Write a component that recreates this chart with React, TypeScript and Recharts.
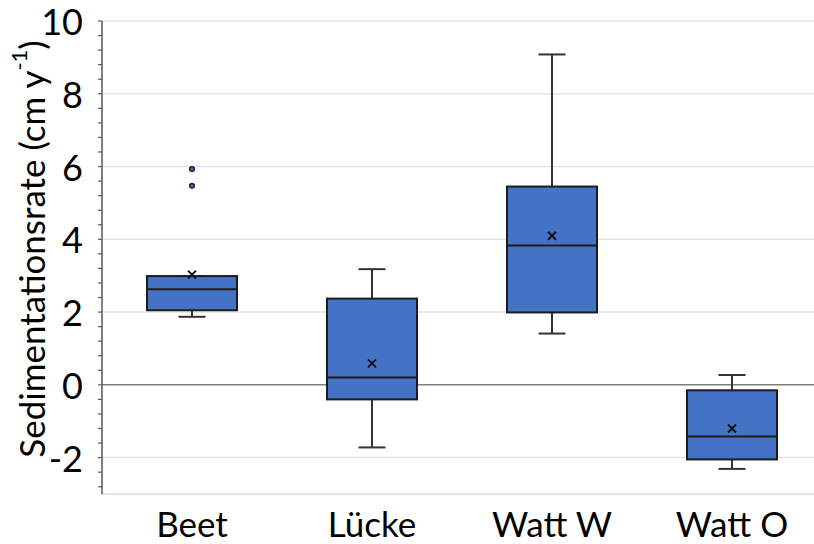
import React from 'react';
import { ComposedChart, Bar, XAxis, YAxis, CartesianGrid } from 'recharts';

const categories = ['Beet', 'Lücke', 'Watt W', 'Watt O'];
const whiskerLow = [1.87, -1.72, 1.41, -2.31];
const q1 = [2.05, -0.4, 1.99, -2.05];
const median = [2.63, 0.2, 3.83, -1.42];
const q3 = [2.99, 2.37, 5.45, -0.15];
const whiskerHigh = [2.99, 3.18, 9.08, 0.27];
const means = [3.03, 0.59, 4.1, -1.2];
const outliers: number[][] = [[5.47, 5.93], [], [], []];

const yTicks = [
  -2.8, -2.4, -2, -1.6, -1.2, -0.8, -0.4, 0, 0.4, 0.8, 1.2, 1.6, 2, 2.4, 2.8, 3.2, 3.6, 4,
  4.4, 4.8, 5.2, 5.6, 6, 6.4, 6.8, 7.2, 7.6, 8, 8.4, 8.8, 9.2, 9.6, 10,
];
const gridValues = [-2, 2, 4, 6, 8, 10];
const zeroValues = [0];

const data = categories.map((name, i) => ({
  name,
  range: [whiskerLow[i], whiskerHigh[i]],
  low: whiskerLow[i],
  q1: q1[i],
  median: median[i],
  q3: q3[i],
  high: whiskerHigh[i],
  mean: means[i],
  outliers: outliers[i],
}));

const FONT = 'Lato, Carlito, Calibri, sans-serif';
const BOX_FILL = '#4472C4';
const BOX_STROKE = '#1c1c1c';
const WHISKER = '#333333';

const BoxShape = (props: any) => {
  const { x, y, width, height, payload } = props;
  const top = Math.min(y, y + height);
  const h = Math.abs(height);
  const span = payload.high - payload.low;
  const ppu = span > 0 ? h / span : 0;
  const yOf = (v: number) => top + (payload.high - v) * ppu;
  const cx = x + width / 2;
  const cap = 13.5;
  const yQ1 = yOf(payload.q1);
  const yQ3 = yOf(payload.q3);
  const yMed = yOf(payload.median);
  const yMean = yOf(payload.mean);
  const m = 4;
  return (
    <g>
      <line x1={cx} x2={cx} y1={yOf(payload.high)} y2={yQ3} stroke={WHISKER} strokeWidth={2} />
      <line x1={cx} x2={cx} y1={yQ1} y2={yOf(payload.low)} stroke={WHISKER} strokeWidth={2} />
      <line x1={cx - cap} x2={cx + cap} y1={yOf(payload.high)} y2={yOf(payload.high)} stroke={WHISKER} strokeWidth={2} />
      <line x1={cx - cap} x2={cx + cap} y1={yOf(payload.low)} y2={yOf(payload.low)} stroke={WHISKER} strokeWidth={2} />
      <rect x={x} y={yQ3} width={width} height={yQ1 - yQ3} fill={BOX_FILL} stroke={BOX_STROKE} strokeWidth={2} />
      <line x1={x} x2={x + width} y1={yMed} y2={yMed} stroke={BOX_STROKE} strokeWidth={2} />
      <line x1={cx - m} x2={cx + m} y1={yMean - m} y2={yMean + m} stroke="#111" strokeWidth={2} />
      <line x1={cx - m} x2={cx + m} y1={yMean + m} y2={yMean - m} stroke="#111" strokeWidth={2} />
      {payload.outliers.map((v: number, k: number) => (
        <circle key={k} cx={cx} cy={yOf(v)} r={2.3} fill={BOX_FILL} stroke="#1c1c2c" strokeWidth={1.5} />
      ))}
    </g>
  );
};

const YTick = (props: any) => {
  const { x, y, payload } = props;
  const v = payload.value;
  if (!(Number.isInteger(v) && v % 2 === 0)) return null;
  return (
    <text x={x} y={y} textAnchor="end" dominantBaseline="central" fontSize={36} fontFamily={FONT} fill="#000">
      {v}
    </text>
  );
};

const YTitle = () => (
  <text
    transform="translate(31,249) rotate(-90)"
    textAnchor="middle"
    dominantBaseline="central"
    fontSize={35}
    fontFamily={FONT}
    fill="#000"
  >
    Sedimentationsrate (cm y
    <tspan dy={-13} fontSize={22}>-1</tspan>
    <tspan dy={13}>)</tspan>
  </text>
);

export default function App() {
  return (
    <div style={{ position: 'absolute', left: 0, top: 0, width: 814, height: 544, overflow: 'hidden', background: '#fff' }}>
      <ComposedChart
        width={830}
        height={544}
        data={data}
        margin={{ top: 21, right: 8, bottom: 0, left: 42 }}
      >
        <CartesianGrid vertical={false} horizontalValues={gridValues} stroke="#e3e3e3" strokeWidth={1.5} />
        <CartesianGrid vertical={false} horizontalValues={zeroValues} stroke="#7f7f7f" strokeWidth={1.5} />
        <XAxis
          dataKey="name"
          type="category"
          axisLine={{ stroke: '#d6dce5', strokeWidth: 1.5 }}
          tickLine={false}
          height={50}
          tickMargin={12}
          tick={{ fontSize: 35, fontFamily: FONT, fill: '#000' }}
          interval={0}
        />
        <YAxis
          type="number"
          domain={[-3, 10]}
          ticks={yTicks}
          interval={0}
          width={60}
          tickSize={4}
          tickMargin={15}
          axisLine={{ stroke: '#595959', strokeWidth: 1.5 }}
          tickLine={{ stroke: '#595959', strokeWidth: 1.2 }}
          tick={<YTick />}
          allowDataOverflow
          label={{ content: () => <YTitle /> }}
        />
        <Bar dataKey="range" barSize={90} shape={<BoxShape />} isAnimationActive={false} />
      </ComposedChart>
    </div>
  );
}
